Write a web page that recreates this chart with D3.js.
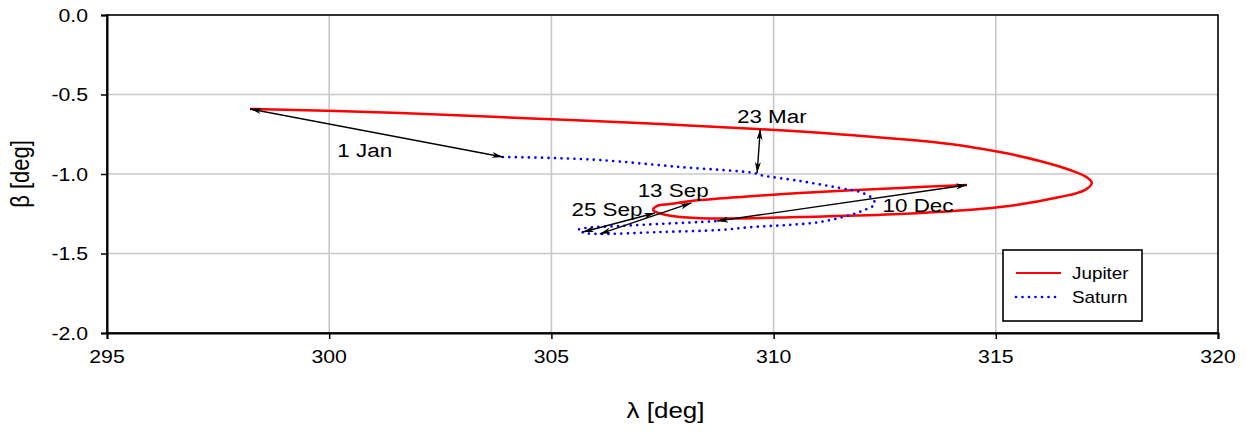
<!DOCTYPE html>
<html>
<head>
<meta charset="utf-8">
<script src="https://cdn.jsdelivr.net/npm/d3@7"></script>
<style>
  body { margin: 0; background: #fff; }
  text { font-family: "Liberation Sans", Arial, Helvetica, sans-serif; fill: #000; }
</style>
</head>
<body>
<div id="chart"></div>
<script>
// ecliptic longitude / latitude
var jupiterLon = [298.22, 301.59, 304.29, 307.22, 309.63, 311.72, 313.97, 315.09, 315.99, 316.67, 317.07, 317.16,
                  317.00, 316.44, 315.09, 312.84, 310.59, 308.79, 307.89, 307.49, 307.29,
                  307.38, 307.67, 308.34, 309.24, 310.59, 312.84, 314.35];
var jupiterLat = [-0.591, -0.616, -0.648, -0.682, -0.717, -0.755, -0.811, -0.862, -0.918, -0.975, -1.025, -1.057,
                  -1.101, -1.145, -1.208, -1.252, -1.270, -1.280, -1.270, -1.252, -1.226,
                  -1.201, -1.189, -1.164, -1.145, -1.119, -1.088, -1.069];

var saturnLon = [303.91, 304.97, 306.09, 307.89, 309.56, 309.69, 310.59, 311.49, 311.94, 312.21, 312.28, 312.10,
                 311.72, 311.04, 310.30, 309.54, 308.79, 307.44, 306.09, 305.76, 305.60,
                 305.76, 306.54, 307.44, 308.34, 308.73];
var saturnLat = [-0.893, -0.899, -0.912, -0.956, -0.994, -1.006, -1.044, -1.088, -1.113, -1.151, -1.189, -1.220,
                 -1.258, -1.302, -1.321, -1.333, -1.352, -1.365, -1.377, -1.371, -1.352,
                 -1.340, -1.327, -1.314, -1.302, -1.296];

// dated pairs of positions joined by arrows
var eventDates   = ["1 Jan", "23 Mar", "13 Sep", "25 Sep", "10 Dec"];
var eventJupiter = [[298.22, -0.591], [309.70, -0.717], [308.15, -1.182], [307.33, -1.245], [314.35, -1.069]];
var eventSaturn  = [[303.91, -0.893], [309.63, -0.994], [306.09, -1.377], [305.71, -1.365], [308.73, -1.296]];
var eventLabelAt = [[300.80, -0.849], [309.96, -0.635], [307.74, -1.101], [306.25, -1.220], [313.25, -1.195]];

var lonTicks = [295, 300, 305, 310, 315, 320];
var latTicks = [0, -0.5, -1, -1.5, -2];
var seriesNames = ["Jupiter", "Saturn"];

var W = 1247, H = 432;
var margin = {top: 15, right: 29, bottom: 99, left: 107};
var innerW = W - margin.left - margin.right,
    innerH = H - margin.top - margin.bottom;
var STRETCH = 1.18; // glyphs in the picture are a bit wide

var x = d3.scaleLinear().domain([295, 320]).range([0, innerW]);
var y = d3.scaleLinear().domain([-2, 0]).range([innerH, 0]);

var svg = d3.select("#chart").append("svg")
    .attr("width", W)
    .attr("height", H);

var defs = svg.append("defs");
defs.append("marker")
    .attr("id", "head")
    .attr("viewBox", "0 0 11 6")
    .attr("refX", 11).attr("refY", 3)
    .attr("markerWidth", 11).attr("markerHeight", 6)
    .attr("markerUnits", "userSpaceOnUse")
    .attr("orient", "auto-start-reverse")
  .append("path")
    .attr("d", "M0,0 L11,3 L0,6 L3,3 Z")
    .attr("fill", "#000");

var g = svg.append("g").attr("transform", `translate(${margin.left},${margin.top})`);

function putText(sel, tx, ty, rot) {
    return sel.attr("transform", `translate(${tx},${ty}) scale(${STRETCH},1)` + (rot ? ` rotate(${rot})` : ""));
}

// grid
g.append("g").selectAll("line")
    .data(lonTicks.slice(1, -1))
    .enter().append("line")
    .attr("x1", d => x(d)).attr("x2", d => x(d))
    .attr("y1", 0).attr("y2", innerH)
    .attr("stroke", "#c8c8c8").attr("stroke-width", 1.6);
g.append("g").selectAll("line")
    .data(latTicks.slice(1, -1))
    .enter().append("line")
    .attr("x1", 0).attr("x2", innerW)
    .attr("y1", d => y(d)).attr("y2", d => y(d))
    .attr("stroke", "#c8c8c8").attr("stroke-width", 1.6);

// frame
g.append("rect")
    .attr("width", innerW).attr("height", innerH)
    .attr("fill", "none").attr("stroke", "#000").attr("stroke-width", 1.6);

// axes
var xAxis = g.append("g")
    .attr("transform", `translate(0,${innerH})`)
    .call(d3.axisBottom(x).tickValues(lonTicks).tickSize(6).tickFormat(""));
var yAxis = g.append("g")
    .call(d3.axisLeft(y).tickValues(latTicks).tickSize(6).tickFormat(""));
[xAxis, yAxis].forEach(a => {
    a.select(".domain").attr("stroke", "#000").attr("stroke-width", 2);
    a.selectAll(".tick line").attr("stroke", "#000").attr("stroke-width", 1.5);
});

g.append("g").selectAll("text")
    .data(lonTicks)
    .enter().append("text")
    .each(function (d) { putText(d3.select(this), x(d), innerH + 30); })
    .attr("text-anchor", "middle")
    .attr("font-size", 18)
    .text(d => d);
g.append("g").selectAll("text")
    .data(latTicks)
    .enter().append("text")
    .each(function (d) { putText(d3.select(this), -19, y(d) + 6.5); })
    .attr("text-anchor", "end")
    .attr("font-size", 18)
    .text(d => d3.format(".1f")(d).replace("−", "-"));

putText(g.append("text"), innerW / 2 + 3, innerH + 85)
    .attr("text-anchor", "middle")
    .attr("font-size", 22)
    .text("λ [deg]");
putText(g.append("text"), -78, innerH / 2, -90)
    .attr("text-anchor", "middle")
    .attr("font-size", 22)
    .text("β [deg]");

// paths
var line = d3.line()
    .x(i => x(i[0])).y(i => y(i[1]))
    .curve(d3.curveCatmullRom.alpha(0.5));

var jupiter = jupiterLon.map((d, i) => [d, jupiterLat[i]]);
var saturn = saturnLon.map((d, i) => [d, saturnLat[i]]);

g.append("path")
    .attr("d", line(jupiter))
    .attr("fill", "none")
    .attr("stroke", "#ff0000")
    .attr("stroke-width", 2.5);

g.append("path")
    .attr("d", line(saturn))
    .attr("fill", "none")
    .attr("stroke", "#0000ff")
    .attr("stroke-width", 2.7)
    .attr("stroke-linecap", "round")
    .attr("stroke-dasharray", "0,6.5");

// arrows and dates
g.append("g").selectAll("line")
    .data(eventDates)
    .enter().append("line")
    .attr("x1", (d, i) => x(eventJupiter[i][0])).attr("y1", (d, i) => y(eventJupiter[i][1]))
    .attr("x2", (d, i) => x(eventSaturn[i][0])).attr("y2", (d, i) => y(eventSaturn[i][1]))
    .attr("stroke", "#000").attr("stroke-width", 1.4)
    .attr("marker-start", "url(#head)")
    .attr("marker-end", "url(#head)");

g.append("g").selectAll("text")
    .data(eventDates)
    .enter().append("text")
    .each(function (d, i) { putText(d3.select(this), x(eventLabelAt[i][0]), y(eventLabelAt[i][1]) + 7); })
    .attr("text-anchor", "middle")
    .attr("font-size", 19)
    .text(d => d);

// legend, top-left corner placed in plot pixels
var leg = g.append("g").attr("transform", "translate(896,235)");
leg.append("rect")
    .attr("width", 139).attr("height", 71)
    .attr("fill", "#fff").attr("stroke", "#000").attr("stroke-width", 1.6);
var legItems = leg.selectAll(".item")
    .data(seriesNames)
    .enter().append("g")
    .attr("transform", (d, i) => `translate(0,${23 + i * 24})`);
legItems.append("line")
    .attr("x1", 13).attr("x2", (d, i) => i ? 56 : 58)
    .attr("stroke", (d, i) => i ? "#0000ff" : "#ff0000")
    .attr("stroke-width", (d, i) => i ? 2.7 : 2)
    .attr("stroke-linecap", (d, i) => i ? "round" : "butt")
    .attr("stroke-dasharray", (d, i) => i ? "0,6.5" : null);
legItems.append("text")
    .each(function () { putText(d3.select(this), 69, 6); })
    .attr("font-size", 16)
    .text(d => d);
</script>
</body>
</html>
